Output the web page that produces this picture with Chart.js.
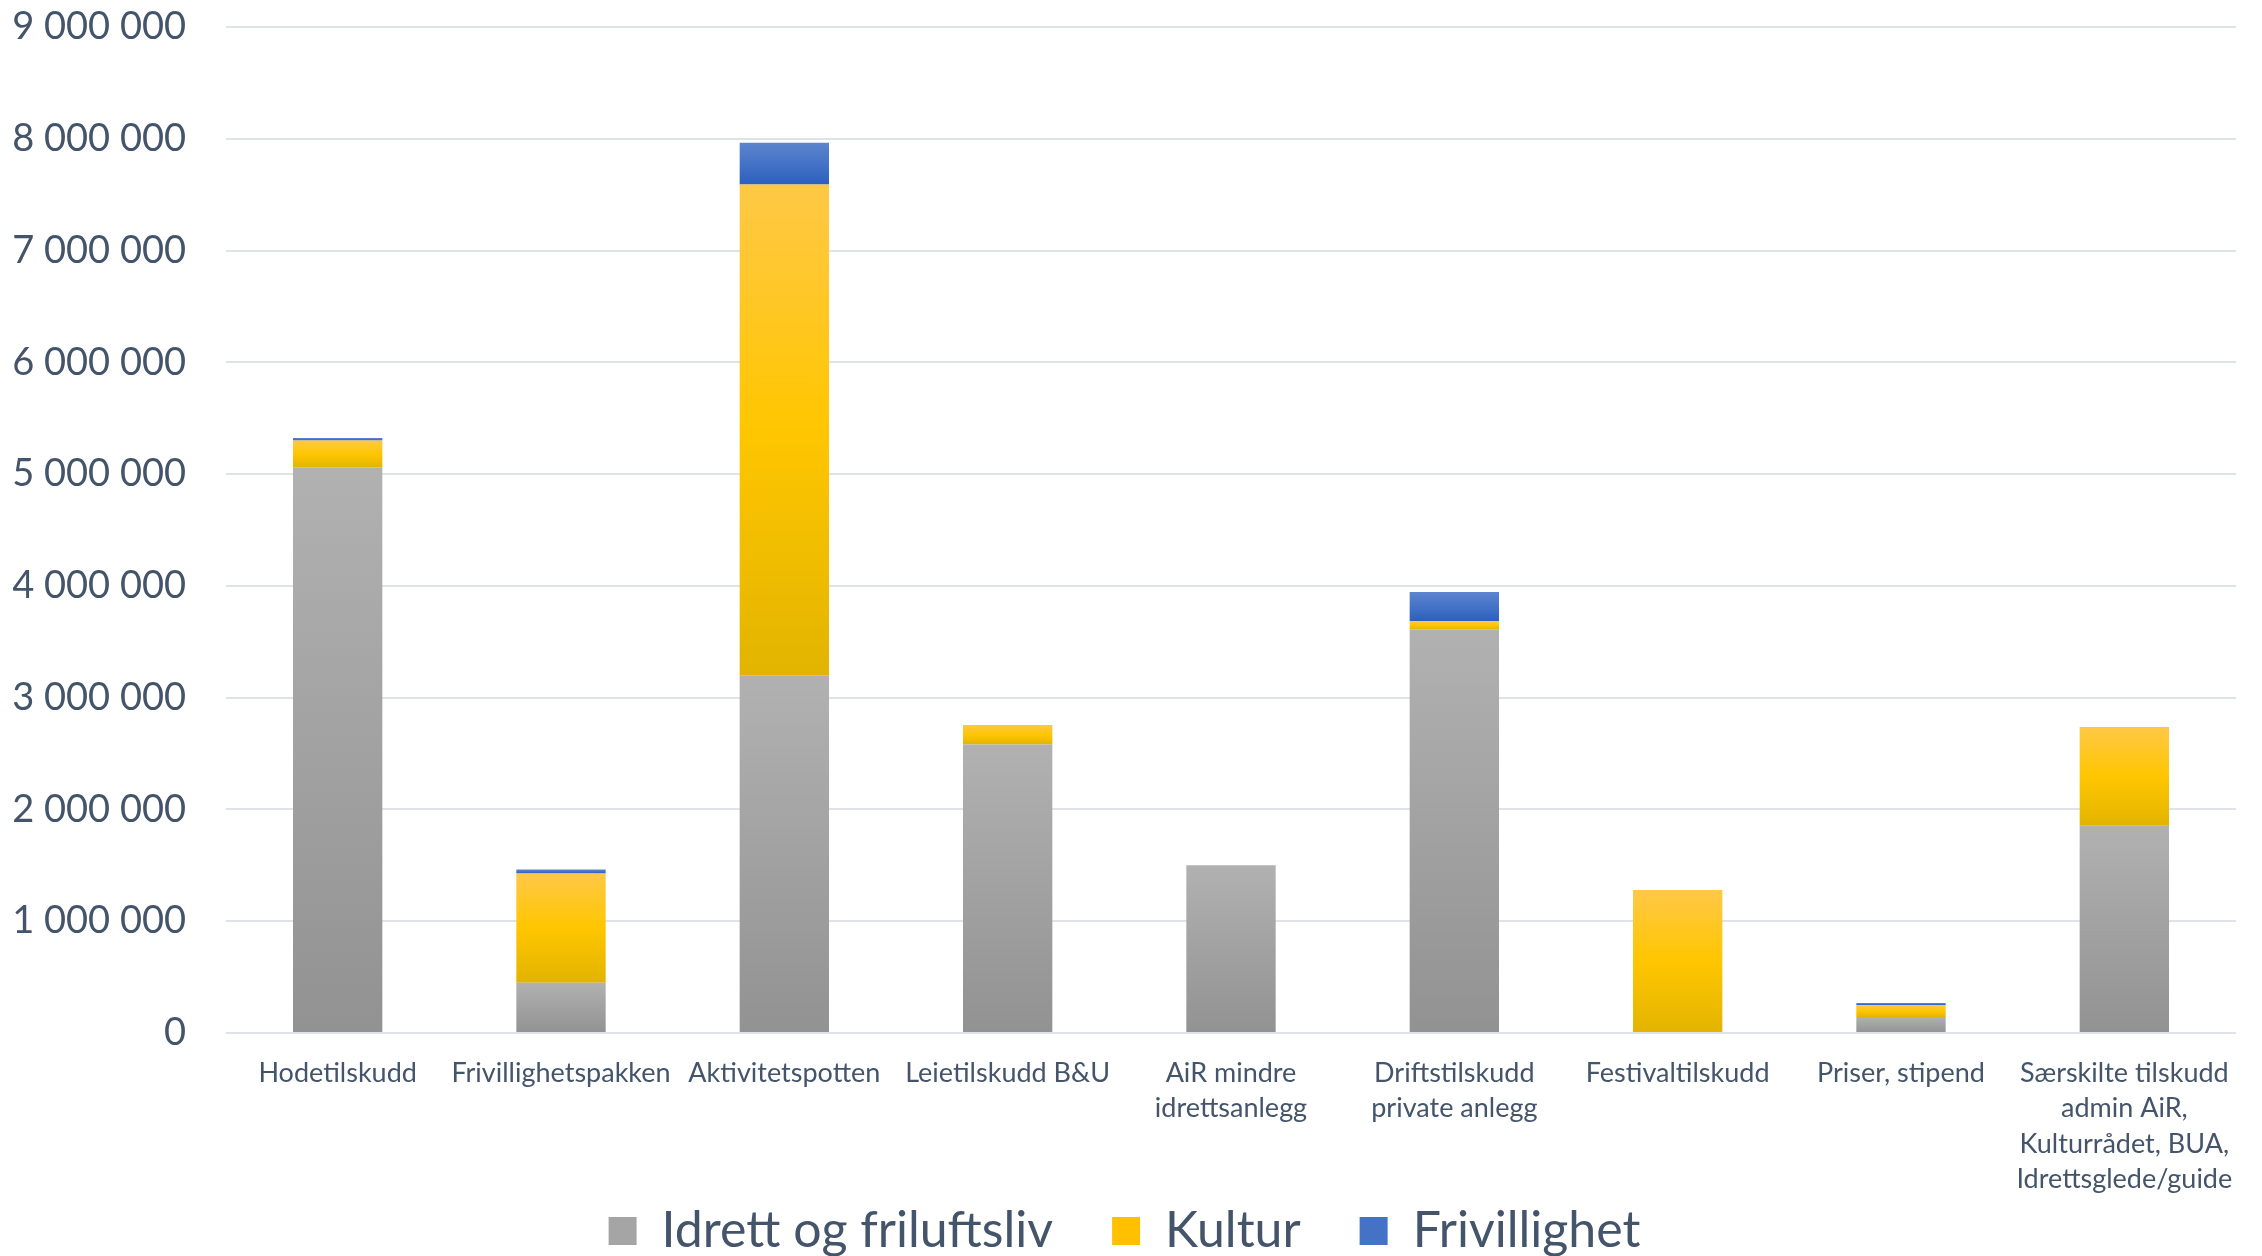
<!DOCTYPE html>
<html>
<head>
<meta charset="utf-8">
<script src="https://cdn.jsdelivr.net/npm/chart.js@4"></script>
<style>
  html, body { margin: 0; padding: 0; background: #ffffff; }
  #wrap { width: 2262px; height: 1256px; }
</style>
</head>
<body>
<div id="wrap"><canvas id="c" width="2262" height="1256"></canvas></div>
<script>
// ---- Data ----
const categories = [
  "Hodetilskudd",
  "Frivillighetspakken",
  "Aktivitetspotten",
  "Leietilskudd B&U",
  ["AiR mindre", "idrettsanlegg"],
  ["Driftstilskudd", "private anlegg"],
  "Festivaltilskudd",
  "Priser, stipend",
  ["Særskilte tilskudd", "admin AiR,", "Kulturrådet, BUA,", "Idrettsglede/guide"]
];
const seriesNames = ["Idrett og friluftsliv", "Kultur", "Frivillighet"];
const idrett       = [5060000, 450000, 3200000, 2580000, 1500000, 3610000, 0, 143000, 1855000];
const kultur       = [240000, 977000, 4390000, 175000, 0, 75000, 1280000, 107000, 882000];
const frivillighet = [22000, 35000, 375000, 0, 0, 260000, 0, 18000, 0];
const yTicks = [0, 1000000, 2000000, 3000000, 4000000, 5000000, 6000000, 7000000, 8000000, 9000000];

// ---- Styles ----
const textColor = "#44546a";
const fontFamily = "Lato, 'Open Sans', sans-serif";
const gradStops = [
  [[0, "#b1b1b1"], [1, "#929292"]],
  [[0, "#ffc846"], [0.5, "#ffc600"], [1, "#e2b400"]],
  [[0, "#5d85cf"], [1, "#2c60be"]]
];
const legendColors = ["#a5a5a5", "#ffc000", "#4472c4"];
const allSeries = [idrett, kultur, frivillighet];

function segmentFill(dsIndex) {
  return function (ctx) {
    const chart = ctx.chart;
    if (!chart.chartArea || ctx.type !== "data") return legendColors[dsIndex];
    const i = ctx.dataIndex;
    let start = 0;
    for (let d = 0; d < dsIndex; d++) start += allSeries[d][i];
    const end = start + allSeries[dsIndex][i];
    const y = chart.scales.y;
    const top = y.getPixelForValue(end);
    const bottom = y.getPixelForValue(start);
    if (!isFinite(top) || !isFinite(bottom) || Math.abs(bottom - top) < 0.5) return legendColors[dsIndex];
    const g = chart.ctx.createLinearGradient(0, top, 0, bottom);
    gradStops[dsIndex].forEach(s => g.addColorStop(s[0], s[1]));
    return g;
  };
}

function fmt(v) {
  return String(v).replace(/\B(?=(\d{3})+(?!\d))/g, " ");
}

const chart = new Chart(document.getElementById("c"), {
  type: "bar",
  data: {
    labels: categories,
    datasets: allSeries.map((arr, k) => ({
      label: seriesNames[k],
      data: arr,
      backgroundColor: segmentFill(k),
      borderWidth: 0,
      categoryPercentage: 1.0,
      barPercentage: 0.4
    }))
  },
  options: {
    responsive: false,
    animation: false,
    devicePixelRatio: 1,
    layout: { padding: { left: 13, right: 26, top: 27, bottom: 0 } },
    plugins: {
      tooltip: { enabled: false },
      legend: {
        position: "bottom",
        labels: {
          color: textColor,
          font: { family: fontFamily, size: 50 },
          boxWidth: 28,
          boxHeight: 28,
          padding: 59,
          generateLabels: (chart) => chart.data.datasets.map((ds, k) => ({
            text: ds.label,
            fillStyle: legendColors[k],
            strokeStyle: legendColors[k],
            lineWidth: 0,
            fontColor: textColor,
            datasetIndex: k,
            hidden: false
          }))
        }
      }
    },
    scales: {
      x: {
        stacked: true,
        grid: { display: false, drawTicks: false },
        border: { display: false },
        ticks: {
          color: textColor,
          font: { family: fontFamily, size: 27, lineHeight: 1.32 },
          autoSkip: false,
          maxRotation: 0,
          minRotation: 0,
          padding: 22
        },
        afterFit: (axis) => {
          axis.height = 114;
          axis.paddingLeft = 0; axis.paddingRight = 0;
          axis.paddingTop = 0; axis.paddingBottom = 0;
        }
      },
      y: {
        stacked: true,
        min: 0,
        max: 9000000,
        afterBuildTicks: (axis) => { axis.ticks = yTicks.map(v => ({ value: v })); },
        grid: { color: "#dfe2e8", lineWidth: 2, drawTicks: false },
        border: { display: false },
        ticks: {
          color: textColor,
          font: { family: fontFamily, size: 38 },
          padding: 40,
          callback: (v) => fmt(v)
        },
        afterFit: (axis) => {
          axis.width = 213;
          axis.paddingTop = 0; axis.paddingBottom = 0;
          axis.paddingLeft = 0; axis.paddingRight = 0;
        }
      }
    }
  }
});

// Let the multi-line category labels run below the x-axis box (no clipping),
// and keep the legend box short while keeping wide spacing between items.
if (chart.scales.x) {
  chart.scales.x._computeLabelArea = function () { return undefined; };
}
if (chart.legend) {
  const origFit = chart.legend.fit.bind(chart.legend);
  chart.legend.fit = function () { origFit(); this.height = 109; };
}
chart.update();
if (chart.scales.x) {
  chart.scales.x._computeLabelArea = function () { return undefined; };
  chart.draw();
}
</script>
</body>
</html>
